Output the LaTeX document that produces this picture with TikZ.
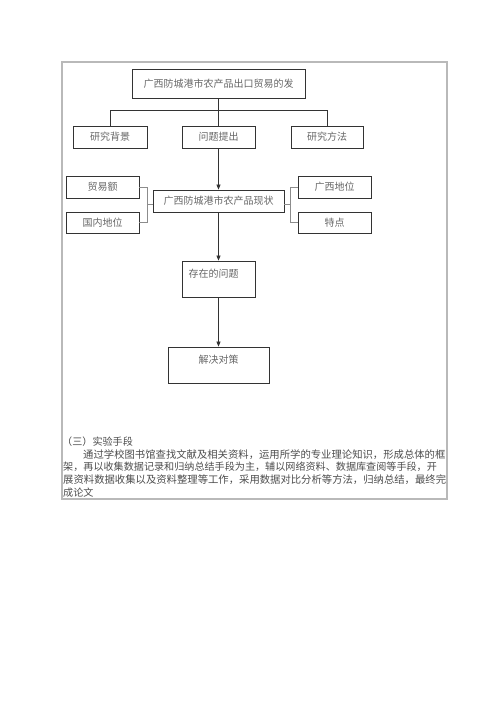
\documentclass[tikz,border=0pt]{standalone}
\usepackage{fontspec}
\newfontfamily\cjk{Noto Sans CJK SC}
\usetikzlibrary{arrows.meta}

\begin{document}
\begin{tikzpicture}[x=1pt, y=-1pt,
  box/.style={draw=black!80, line width=0.8pt, inner sep=0pt, minimum height=22pt,
    font=\cjk\fontsize{10}{12}\selectfont, text=black!60},
  boxtext/.style={inner sep=0pt, font=\cjk\fontsize{10}{12}\selectfont, text=black!60},
  para/.style={inner sep=0pt, anchor=west, text=black!70},
  link/.style={draw=black!80, line width=0.7pt},
  side/.style={draw=black!45, line width=0.7pt},
  arr/.style={link, -{Triangle[length=5pt, width=4pt]}}]
\def\frcolor{gray!55}
\def\parasize{\cjk\fontsize{10.1}{12}\selectfont}
\def\parawide{\cjk\fontsize{10.35}{12}\selectfont}

\useasboundingbox (0,0) rectangle (500,707);
\draw[\frcolor, line width=1.3pt] (62,62) rectangle (447,499); % FRAME

% TOP PART
\node[box, minimum width=173pt, minimum height=29pt] (title) at (218.5,83.5) {广西防城港市农产品出口贸易的发};
\node[box, minimum width=74pt] (bj) at (110,137) {研究背景};
\node[box, minimum width=73pt] (wt) at (218.5,137) {问题提出};
\node[box, minimum width=72pt] (ff) at (327,137) {研究方法};

\draw[link] (title.south) -- (wt.north);
\draw[link] (bj.north) -- ++(0,-15) -| (ff.north);

% MIDDLE PART
\node[box, minimum width=131pt] (xz) at (218.5,201) {广西防城港市农产品现状};
\node[box, minimum width=73pt] (my) at (102.5,187) {贸易额};
\node[box, minimum width=73pt, minimum height=21pt] (gn) at (102.5,222.5) {国内地位};
\node[box, minimum width=73pt] (gx) at (334.5,187) {广西地位};
\node[box, minimum width=73pt, minimum height=21pt] (td) at (334.5,222.5) {特点};

\draw[arr] (wt.south) -- (xz.north);

\coordinate (lb) at (147,204.5);
\coordinate (rb) at (291,204.5);
\draw[side] (my.east) -- ++(8,0) |- (gn.east);
\draw[side] (lb) -- (lb -| xz.west);
\draw[side] (gx.west) -- ++(-7,0) |- (td.west);
\draw[side] (rb) -- (rb -| xz.east);

% LOWER PART
\node[box, minimum width=73pt, minimum height=36pt] (cz) at (218.5,279) {};
\node[boxtext, anchor=west] (czt) at (188.5,274) {存在的问题};
\node[box, minimum width=101pt, minimum height=36pt] (jj) at (218.5,365) {};
\node[boxtext] (jjt) at (218.5,360) {解决对策};

\draw[arr] (xz.south) -- (cz.north);
\draw[arr] (cz.south) -- (jj.north);

% TEXT BELOW
\node[para, font=\parasize] (sd) at (62,441.5) {（三）实验手段};
\node[para, font=\parawide] (l1) at (83,454.2) {通过学校图书馆查找文献及相关资料，运用所学的专业理论知识，形成总体的框};
\node[para, font=\parasize] (l2) at (63,466.9) {架，再以收集数据记录和归纳总结手段为主，辅以网络资料、数据库查阅等手段，开};
\node[para, font=\parawide] (l3) at (63,479.6) {展资料数据收集以及资料整理等工作，采用数据对比分析等方法，归纳总结，最终完};
\node[para, font=\parasize] (l4) at (63,492.3) {成论文};
\end{tikzpicture}
\end{document}
